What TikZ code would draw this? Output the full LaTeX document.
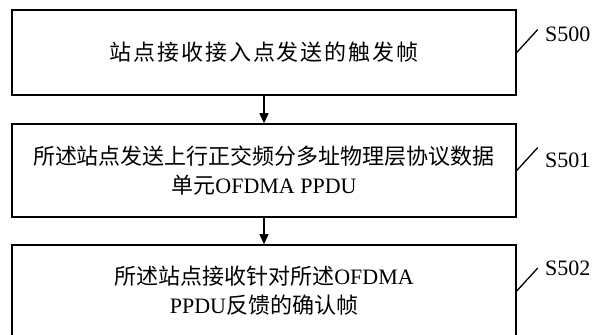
\documentclass[tikz,border=0pt]{standalone}
\usepackage{fontspec}
\setmainfont{Liberation Serif}
\newfontfamily\cjk{Noto Sans CJK SC}
\usetikzlibrary{arrows.meta,calc}
\tikzset{
  stepbox/.style={draw=black, line width=1.5pt, minimum width=504pt, align=center, inner sep=0pt,
    font=\fontsize{22}{29}\selectfont},
  flow/.style={draw=black, line width=1.3pt, -{Triangle[length=10pt,width=9pt]}},
  tagline/.style={draw=black, line width=1.3pt},
  tag/.style={anchor=west, inner sep=0pt, font=\fontsize{22}{26}\selectfont}
}
\begin{document}
\begin{tikzpicture}[x=1pt,y=1pt]
\useasboundingbox (0,0) rectangle (595,335);
\clip (0,0) rectangle (595,335);
\node[stepbox, minimum height=85pt] (b0) at (264,282.5) {{\cjk\addfontfeature{LetterSpace=8.6}站点接收接入点发送的触发帧}};
\node[stepbox, minimum height=93pt] (b1) at (264,164.5) {{\cjk 所述站点发送上行正交频分多址物理层协议数据}\\{\cjk 单元}OFDMA PPDU};
\node[stepbox, minimum height=92pt] (b2) at (264,44) {{\cjk 所述站点接收针对所述}OFDMA\\PPDU{\cjk 反馈的确认帧}};
\draw[flow] (b0.south) -- (b1.north);
\draw[flow] (b1.south) -- (b2.north);
\coordinate (t0) at ($(b0.east)+(21,23)$);
\coordinate (t1) at ($(b1.east)+(21,23)$);
\coordinate (t2) at ($(b2.east)+(21,23)$);
\draw[tagline] (b0.east) -- (t0);
\draw[tagline] (b1.east) -- (t1);
\draw[tagline] (b2.east) -- (t2);
\node[tag] (s0) at (545,301) {S500};
\node[tag] (s1) at (545,175) {S501};
\node[tag] (s2) at (545,67) {S502};
\end{tikzpicture}
\end{document}
